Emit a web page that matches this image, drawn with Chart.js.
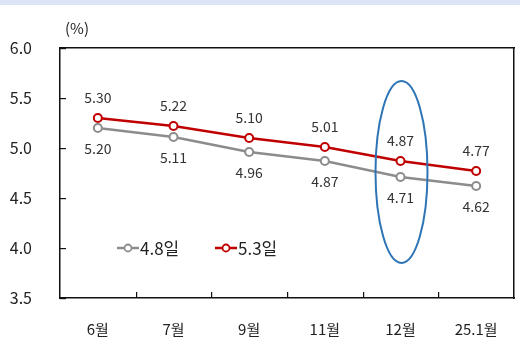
<!DOCTYPE html>
<html>
<head>
<meta charset="utf-8">
<script src="https://cdn.jsdelivr.net/npm/chart.js@4"></script>
<style>
  body { margin: 0; background: #fff; }
  canvas { display: block; }
</style>
</head>
<body>
<canvas id="myChart" width="520" height="352"></canvas>
<script>
// data
let months = ['6월', '7월', '9월', '11월', '12월', '25.1월'];
let rate48 = [5.20, 5.11, 4.96, 4.87, 4.71, 4.62];
let rate53 = [5.30, 5.22, 5.10, 5.01, 4.87, 4.77];
let seriesNames = ['4.8일', '5.3일'];
let yTicks = [3.5, 4.0, 4.5, 5.0, 5.5, 6.0];

const FONT = "'Noto Sans CJK KR', 'Noto Sans', sans-serif";
const GRAY = '#8c8c8c';
const RED = '#c00000';
const FRAME = { display: true, color: '#111', width: 1.5 };

var ctx = document.getElementById('myChart').getContext('2d');

// extras: top band, inward ticks, value labels, legend, highlight ellipse
const extras = {
  id: 'extras',
  beforeDraw: (chart) => {
    const c = chart.ctx;
    c.save();
    c.fillStyle = '#dce4f5';
    c.fillRect(0, 0, chart.width, 5);
    c.restore();
  },
  afterDraw: (chart) => {
    const c = chart.ctx;
    const x = chart.scales.x, y = chart.scales.y;
    const a = chart.chartArea;
    c.save();
    c.fillStyle = '#111';
    for (let i = 0; i < months.length - 1; i++) {
      let px = Math.round((x.getPixelForValue(i) + x.getPixelForValue(i + 1)) / 2);
      c.fillRect(px, a.bottom - 6, 1.2, 6);
    }
    yTicks.forEach(v => {
      let py = Math.round(y.getPixelForValue(v));
      c.fillRect(a.left, py, 6, 1.2);
    });

    // unit
    c.fillStyle = '#222';
    c.font = '15px ' + FONT;
    c.textAlign = 'left';
    c.textBaseline = 'middle';
    c.fillText('(%)', a.left + 5, 28);

    // value labels
    c.font = '14px ' + FONT;
    c.fillStyle = '#333';
    c.textAlign = 'center';
    rate53.forEach((v, i) => {
      c.fillText(v.toFixed(2), x.getPixelForValue(i), y.getPixelForValue(v) - 20);
    });
    rate48.forEach((v, i) => {
      c.fillText(v.toFixed(2), x.getPixelForValue(i), y.getPixelForValue(v) + 21);
    });

    // legend
    const legY = y.getPixelForValue(4.0);
    const items = [[seriesNames[0], GRAY, a.left + 57], [seriesNames[1], RED, a.left + 155]];
    c.font = '17px ' + FONT;
    c.textAlign = 'left';
    items.forEach(([name, col, lx]) => {
      c.strokeStyle = col;
      c.lineWidth = 2.5;
      c.beginPath();
      c.moveTo(lx, legY);
      c.lineTo(lx + 22, legY);
      c.stroke();
      c.beginPath();
      c.arc(lx + 11, legY, 3.5, 0, Math.PI * 2);
      c.fillStyle = '#fff';
      c.fill();
      c.lineWidth = 1.8;
      c.stroke();
      c.fillStyle = '#222';
      c.fillText(name, lx + 23, legY + 1);
    });

    // highlight ellipse around 12월
    const ex = x.getPixelForValue(4);
    const ey1 = y.getPixelForValue(5.67), ey2 = y.getPixelForValue(3.85);
    c.strokeStyle = '#2e75b6';
    c.lineWidth = 2;
    c.beginPath();
    c.ellipse(ex + 1, (ey1 + ey2) / 2, 26, (ey2 - ey1) / 2, 0, 0, Math.PI * 2);
    c.stroke();
    c.restore();
  }
};

new Chart(ctx, {
  type: 'line',
  data: {
    labels: months,
    datasets: [{
      label: seriesNames[0],
      data: rate48,
      borderColor: GRAY,
      borderWidth: 2.5,
      pointRadius: 4,
      pointBorderWidth: 2,
      pointBackgroundColor: '#fff',
      pointBorderColor: GRAY
    }, {
      label: seriesNames[1],
      data: rate53,
      borderColor: RED,
      borderWidth: 2.5,
      pointRadius: 4,
      pointBorderWidth: 2,
      pointBackgroundColor: '#fff',
      pointBorderColor: RED
    }]
  },
  options: {
    responsive: false,
    animation: false,
    layout: { padding: { top: 48, right: 2, left: 0, bottom: 0 } },
    plugins: { legend: { display: false }, tooltip: { enabled: false } },
    scales: {
      x: {
        offset: true,
        grid: { display: false },
        border: FRAME,
        ticks: { color: '#222', font: { family: FONT, size: 15 }, padding: 14 },
        afterFit: (s) => { s.height = 54; s.paddingLeft = 0; s.paddingRight = 0; }
      },
      xTop: {
        position: 'top',
        offset: true,
        grid: { display: false },
        border: FRAME,
        ticks: { display: false },
        afterFit: (s) => { s.height = 0; s.paddingLeft = 0; s.paddingRight = 0; }
      },
      y: {
        min: 3.5,
        max: 6.0,
        afterBuildTicks: (s) => { s.ticks = yTicks.map(v => ({ value: v })); },
        grid: { display: false },
        border: FRAME,
        ticks: {
          color: '#222',
          font: { family: FONT, size: 16 },
          padding: 20,
          callback: (v) => v.toFixed(1)
        },
        afterFit: (s) => { s.width = 60; }
      },
      yRight: {
        position: 'right',
        min: 3.5,
        max: 6.0,
        grid: { display: false },
        border: FRAME,
        ticks: { display: false },
        afterFit: (s) => { s.width = 0; }
      }
    }
  },
  plugins: [extras]
});
</script>
</body>
</html>
